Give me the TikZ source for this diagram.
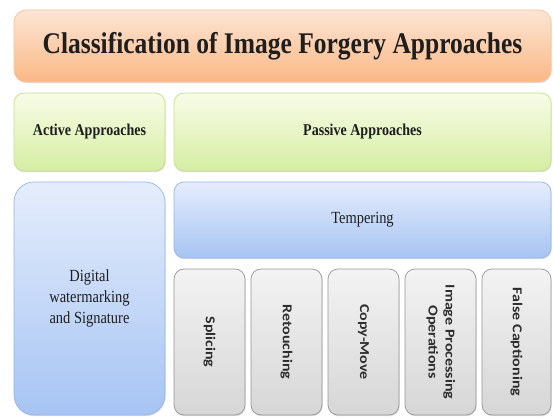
\documentclass[tikz,border=0pt]{standalone}
\usepackage{graphicx}
\usepackage{fontspec}
\setmainfont{Liberation Serif}
\newfontfamily\calibfont{Carlito}
\usetikzlibrary{shadows}
\definecolor{orTop}{RGB}{253,229,212}
\definecolor{orBot}{RGB}{250,184,134}
\definecolor{orLine}{RGB}{246,196,160}
\definecolor{grTop}{RGB}{248,252,232}
\definecolor{grBot}{RGB}{214,238,162}
\definecolor{grLine}{RGB}{196,222,150}
\definecolor{blTop}{RGB}{229,237,252}
\definecolor{blBot}{RGB}{166,196,243}
\definecolor{blLine}{RGB}{150,182,232}
\definecolor{gyTop}{RGB}{243,243,243}
\definecolor{gyBot}{RGB}{214,214,214}
\definecolor{gyLine}{RGB}{150,150,150}
\definecolor{txt}{RGB}{30,30,30}
\definecolor{vtxt}{RGB}{45,45,45}
\newcommand\hsq[1]{\scalebox{0.85}[1]{#1}}
\newcommand\vsq[1]{\scalebox{1}[0.85]{#1}}
\tikzset{
  base/.style={draw, line width=0.7pt, inner sep=0pt, outer sep=0pt,
    rounded corners=10pt, text=txt,
    drop shadow={shadow xshift=0.6pt, shadow yshift=-1.2pt, opacity=0.22, fill=black!60}},
  orangebox/.style={base, draw=orLine, top color=orTop, bottom color=orBot, rounded corners=12pt},
  greenbox/.style={base, draw=grLine, top color=grTop, bottom color=grBot},
  bluebox/.style={base, draw=blLine, top color=blTop, bottom color=blBot},
  graybox/.style={base, draw=gyLine, top color=gyTop, bottom color=gyBot},
  vlabel/.style={rotate=-90, inner sep=0pt, text=vtxt},
}
\newcommand\vfont{\calibfont\bfseries\fontsize{16}{20}\selectfont}
\begin{document}
\begin{tikzpicture}[x=1pt, y=-1pt]
\useasboundingbox[fill=white] (0,0) rectangle (553,417);

\node[orangebox, minimum width=537pt, minimum height=72pt] (title) at (282.5,46)
  {\hsq{\fontsize{30}{36}\selectfont\bfseries Classification of Image Forgery Approaches}};

\node[greenbox, minimum width=151pt, minimum height=78pt] (active) at (89.5,132)
  {\hsq{\fontsize{16.5}{20}\selectfont\bfseries Active Approaches}};
\node[greenbox, minimum width=377pt, minimum height=78pt] (passive) at (362.5,132)
  {\hsq{\fontsize{16.5}{20}\selectfont\bfseries Passive Approaches}};

\node[bluebox, rounded corners=20pt, minimum width=151pt, minimum height=233pt] (digital) at (89.5,298.5)
  {\raisebox{-3pt}{\hsq{\fontsize{17}{21}\selectfont\begin{tabular}{@{}c@{}}Digital\\watermarking\\and Signature\end{tabular}}}};
\node[bluebox, minimum width=377pt, minimum height=76pt] (temp) at (362.5,220)
  {\raisebox{-2pt}{\hsq{\fontsize{17}{21}\selectfont Tempering}}};

\node[graybox, minimum width=71pt, minimum height=146pt] (spl) at (209.5,342) {};
\node[graybox, minimum width=71pt, minimum height=146pt] (ret) at (286.5,342) {};
\node[graybox, minimum width=71pt, minimum height=146pt] (cpm) at (363.5,342) {};
\node[graybox, minimum width=71pt, minimum height=146pt] (ipo) at (440.5,342) {};
\node[graybox, minimum width=69pt, minimum height=146pt] (fc) at (516.5,342) {};

\node[vlabel] (splT) at (spl.center) {\vsq{\vfont Splicing}};
\node[vlabel] (retT) at (ret.center) {\vsq{\vfont Retouching}};
\node[vlabel] (cpmT) at (cpm.center) {\vsq{\vfont Copy-Move}};
\node[vlabel] (ipoT) at (ipo.center) {\vsq{\vfont\begin{tabular}{@{}c@{}}Image Processing\\Operations\end{tabular}}};
\node[vlabel] (fcT) at (fc.center) {\vsq{\vfont False Captioning}};
\end{tikzpicture}
\end{document}
